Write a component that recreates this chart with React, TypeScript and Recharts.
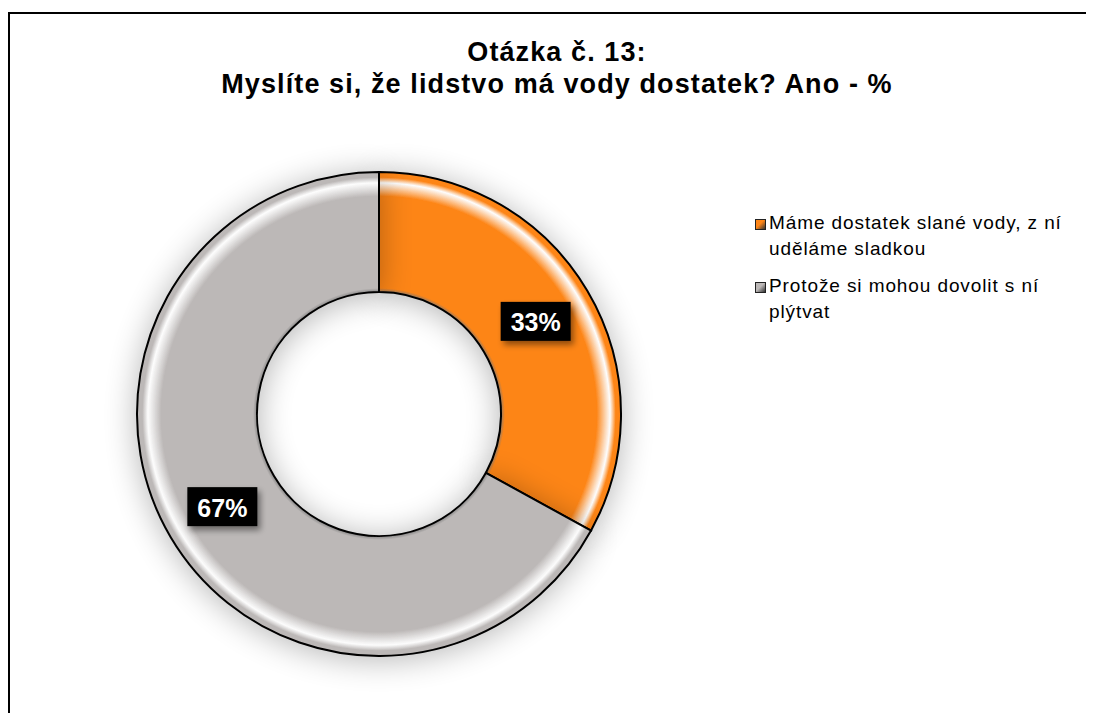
import React from 'react'
import { PieChart, Pie, Cell, Legend } from 'recharts'

// Answers and their shares (%)
const answers = [
  'Máme dostatek slané vody, z ní uděláme sladkou',
  'Protože si mohou dovolit s ní plýtvat',
]
const shares = [33, 67]
const colors = ['#FD8517', '#BCB8B7']
const gradIds = ['gradOrange', 'gradGray']

const titleLines = ['Otázka č. 13:', 'Myslíte si, že lidstvo má vody dostatek? Ano - %']

const data = answers.map((name, i) => ({ name, value: shares[i] }))

const RADIAN = Math.PI / 180
const FONT = '"Liberation Sans", Arial, Helvetica, sans-serif'

// Black box with white percent value in the middle of the ring
const renderLabel = (props: any) => {
  const { cx, cy, midAngle, innerRadius, outerRadius, value } = props
  const r = (innerRadius + outerRadius) / 2
  const x = cx + r * Math.cos(-midAngle * RADIAN)
  const y = cy + r * Math.sin(-midAngle * RADIAN)
  return (
    <g>
      <rect x={x - 35} y={y - 19.5} width={70} height={39} fill="#000" filter="url(#labelShadow)" />
      <text
        x={x}
        y={y + 1}
        textAnchor="middle"
        dominantBaseline="central"
        fill="#fff"
        fontFamily={FONT}
        fontWeight="bold"
        fontSize={25}
      >
        {value}%
      </text>
    </g>
  )
}

const LegendContent = ({ payload }: any) => (
  <div style={{ fontFamily: FONT, fontSize: 19, letterSpacing: 0.9, color: '#000', lineHeight: '26px' }}>
    {(payload || []).map((entry: any, i: number) => (
      <div key={i} style={{ display: 'flex', alignItems: 'flex-start', marginBottom: 11 }}>
        <span
          style={{
            display: 'inline-block',
            width: 9,
            height: 9,
            marginTop: 9,
            marginRight: 3,
            border: '1px solid #222',
            background: `linear-gradient(135deg, ${colors[i]} 0%, ${colors[i]} 45%, #333 100%)`,
            flex: 'none',
          }}
        />
        <span style={{ width: 305 }}>{entry.value}</span>
      </div>
    ))}
  </div>
)

export default function App() {
  return (
    <div
      style={{
        position: 'relative',
        marginTop: 4,
        width: 1100,
        height: 710,
        borderTop: '2px solid #000',
        borderLeft: '2px solid #000',
        background: '#fff',
        overflow: 'hidden',
      }}
    >
      <style>{'html, body { overflow: hidden; }'}</style>
      <div
        style={{
          position: 'absolute',
          top: 22,
          left: 0,
          width: 1094,
          textAlign: 'center',
          fontFamily: FONT,
          fontWeight: 'bold',
          fontSize: 27,
          letterSpacing: 1.1,
          lineHeight: '32px',
          color: '#000',
        }}
      >
        {titleLines.map((t, i) => (
          <div key={i}>{t}</div>
        ))}
      </div>
      <PieChart width={1084} height={699} style={{ position: 'absolute', top: 0, left: 0 }}>
        <defs>
          <filter id="pieShadow" x="-30%" y="-30%" width="160%" height="160%">
            <feGaussianBlur in="SourceAlpha" stdDeviation="16" />
            <feOffset dx="0" dy="3" result="blur" />
            <feComponentTransfer>
              <feFuncA type="linear" slope="0.3" />
            </feComponentTransfer>
            <feMerge>
              <feMergeNode />
              <feMergeNode in="SourceGraphic" />
            </feMerge>
          </filter>
          <filter id="labelShadow" x="-30%" y="-30%" width="160%" height="160%">
            <feGaussianBlur in="SourceAlpha" stdDeviation="3" />
            <feOffset dx="3" dy="4" />
            <feComponentTransfer>
              <feFuncA type="linear" slope="0.45" />
            </feComponentTransfer>
            <feMerge>
              <feMergeNode />
              <feMergeNode in="SourceGraphic" />
            </feMerge>
          </filter>
          {colors.map((c, i) => (
            <radialGradient key={i} id={gradIds[i]} gradientUnits="userSpaceOnUse" cx={369} cy={400} r={242}>
              <stop offset="0.5" stopColor="#777" />
              <stop offset="0.52" stopColor={c} />
              <stop offset="0.9" stopColor={c} />
              <stop offset="0.955" stopColor="#fff" stopOpacity={0.9} />
              <stop offset="0.978" stopColor={c} />
              <stop offset="1" stopColor={c} />
            </radialGradient>
          ))}
        </defs>
        <Pie
          data={data}
          dataKey="value"
          nameKey="name"
          cx={364}
          cy={395}
          innerRadius={122}
          outerRadius={242}
          startAngle={90}
          endAngle={-270}
          stroke="#000"
          strokeWidth={2}
          label={renderLabel}
          labelLine={false}
          isAnimationActive={false}
          style={{ filter: 'url(#pieShadow)' }}
        >
          {data.map((d, i) => (
            <Cell key={d.name} fill={`url(#${gradIds[i]})`} />
          ))}
        </Pie>
        <Legend
          layout="vertical"
          verticalAlign="top"
          align="right"
          content={<LegendContent />}
          wrapperStyle={{ top: 196, left: 745, width: 340 }}
        />
      </PieChart>
    </div>
  )
}
